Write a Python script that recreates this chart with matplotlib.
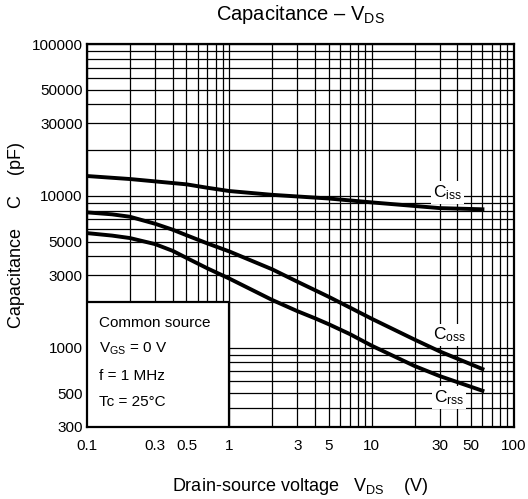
import matplotlib
matplotlib.use('Agg')
import matplotlib.pyplot as plt
from matplotlib.patches import Rectangle

plt.rcParams['font.family'] = 'Liberation Sans'
plt.rcParams['mathtext.fontset'] = 'custom'
plt.rcParams['mathtext.rm'] = 'Liberation Sans'
plt.rcParams['mathtext.it'] = 'Liberation Sans'
plt.rcParams['font.size'] = 11

# Capacitance vs drain-source voltage (pF vs V)
vds_iss = [0.1, 0.2, 0.3, 0.5, 0.7, 1, 2, 5, 10, 20, 30, 60]
ciss = [13500, 12900, 12450, 11900, 11300, 10750, 10150, 9600, 9050, 8570, 8300, 8150]

vds_oss = [0.1, 0.15, 0.2, 0.3, 0.4, 0.5, 0.7, 1, 2, 3, 4, 5, 7, 10, 20, 30, 60]
coss = [7780, 7550, 7280, 6550, 5980, 5500, 4860, 4300, 3280, 2720, 2390, 2160, 1840, 1550, 1130, 945, 723]
crss = [5680, 5470, 5270, 4810, 4340, 3900, 3330, 2850, 2060, 1740, 1560, 1425, 1230, 1030, 757, 650, 520]

x_labels = {0.1: '0.1', 0.3: '0.3', 0.5: '0.5', 1: '1', 3: '3', 5: '5',
            10: '10', 30: '30', 50: '50', 100: '100'}
y_labels = {300: '300', 500: '500', 1000: '1000', 3000: '3000', 5000: '5000',
            10000: '10000', 30000: '30000', 50000: '50000', 100000: '100000'}

fig, ax = plt.subplots(figsize=(5.28, 4.99), dpi=100)
fig.subplots_adjust(left=87/528, right=514/528, top=1-44/499, bottom=1-427/499)

ax.set_xscale('log')
ax.set_yscale('log')
ax.set_xlim(0.1, 100)
ax.set_ylim(300, 100000)

# every 1..9 decade line gets a grid line, only some get a label
xg = [round(m * 10.0**e, 6) for e in (-1, 0, 1) for m in range(1, 10)] + [100]
yg = [m * 100 for m in range(3, 10)] + [m * 10**e for e in (3, 4) for m in range(1, 10)] + [100000]
ax.set_xticks(xg)
ax.set_xticklabels([x_labels.get(v, '') for v in xg])
ax.set_yticks(yg)
ax.set_yticklabels([y_labels.get(v, '') for v in yg])
ax.minorticks_off()
ax.tick_params(axis='both', length=0, labelsize=11)
ax.tick_params(axis='x', pad=9)
ax.tick_params(axis='y', pad=3)
ax.grid(True, which='major', color='black', lw=0.9)
for s in ax.spines.values():
    s.set_linewidth(1.6)

ax.plot(vds_iss, ciss, color='black', lw=2.8, zorder=4)
ax.plot(vds_oss, coss, color='black', lw=2.8, zorder=4)
ax.plot(vds_oss, crss, color='black', lw=2.8, zorder=4)

# curve names sit on white patches that break the grid, under the curves
lbl_box = dict(facecolor='white', edgecolor='none', pad=1.5)
ax.text(34, 10500, r'C$_{\mathrm{iss}}$', fontsize=12.5, ha='center', va='center', bbox=lbl_box, zorder=3.5)
ax.text(35, 1210, r'C$_{\mathrm{oss}}$', fontsize=12.5, ha='center', va='center', bbox=lbl_box, zorder=3.5)
ax.text(35, 470, r'C$_{\mathrm{rss}}$', fontsize=12.5, ha='center', va='center', bbox=lbl_box, zorder=3.5)

# conditions box in lower left corner
ax.add_patch(Rectangle((0.1, 300), 0.9, 1700, facecolor='white', edgecolor='black',
                       lw=1.6, zorder=3))
ax.text(0.122, 1460, 'Common source', va='center', zorder=5)
ax.text(0.122, 980, r'V$_{\mathrm{GS}}$ = 0 V', va='center', zorder=5)
ax.text(0.122, 650, 'f = 1 MHz', va='center', zorder=5)
ax.text(0.122, 439, 'Tc = 25°C', va='center', zorder=5)

ax.set_title(r'Capacitance – V$_{\mathrm{DS}}$', fontsize=14.5, pad=17)
ax.set_xlabel(r'Drain-source voltage   V$_{\mathrm{DS}}$    (V)', fontsize=13, labelpad=16)
ax.set_ylabel('Capacitance    C    (pF)', fontsize=13, labelpad=5)

fig.savefig('out.png', dpi=100)
